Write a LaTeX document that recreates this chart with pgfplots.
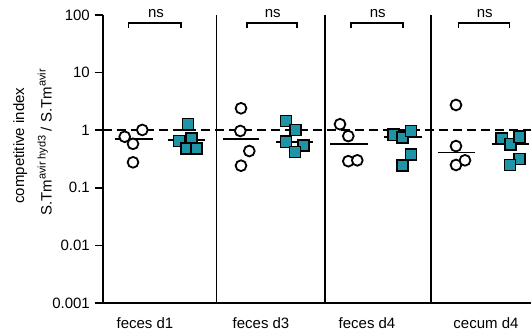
\documentclass[border=0pt]{standalone}
\usepackage{fontspec}
\setmainfont{Liberation Sans}
\usepackage{pgfplots}
\pgfplotsset{compat=1.18}
\definecolor{sqfill}{RGB}{30,148,166}
\begin{document}
\fontsize{15bp}{18bp}\selectfont
\begin{tikzpicture}
\useasboundingbox (0,0) rectangle (531bp,336bp);
\begin{axis}[
 at={(103bp,33bp)}, anchor=south west,
 scale only axis, width=428bp, height=288bp,
 xmin=0, xmax=428, ymode=log, ymin=0.001, ymax=100,
 axis lines=left, axis line style={-, line width=1.8bp},
 ytick={0.001,0.01,0.1,1,10,100},
 yticklabels={0.001,0.01,0.1,1,10,100},
 yminorticks=false,
 tick align=outside, major tick length=8bp,
 ytick style={line width=1.8bp, black},
 xtick={42,158,264,383}, xticklabels={feces d1,feces d3,feces d4,cecum d4},
 xtick style={draw=none},
 xticklabel style={yshift=-1bp},
 tick label style={font=\fontsize{15bp}{18bp}\selectfont},
 clip=false,
]
% dashed reference line at 1
\addplot[black, line width=1.8bp, dash pattern=on 9bp off 5bp] coordinates {(0,1) (428,1)};
% panel separators
\addplot[black, line width=1.8bp] coordinates {(113.5,0.001) (113.5,100)};
\addplot[black, line width=1.8bp] coordinates {(222.3,0.001) (222.3,100)};
\addplot[black, line width=1.8bp] coordinates {(327.7,0.001) (327.7,100)};
% circles (avir)
\addplot[only marks, mark=*, mark size=5.4bp, mark options={fill=white, draw=black, line width=1.8bp}] coordinates {
 (39.3,1.01) (21.7,0.77) (30,0.58) (30,0.277)
 (138,2.40) (137.3,0.97) (146.3,0.435) (138,0.242)
 (237,1.27) (245.3,0.79) (245.3,0.29) (254.3,0.30)
 (353,2.74) (353,0.53) (353,0.249) (362,0.30)
};
% squares (avir hyd3)
\addplot[only marks, mark=square*, mark size=5.6bp, mark options={fill=sqfill, draw=black, line width=1.6bp}] coordinates {
 (85,1.27) (76,0.65) (88.3,0.72) (83.3,0.485) (93.3,0.485)
 (183,1.44) (192.3,1.01) (183,0.63) (200.3,0.54) (192,0.42)
 (290.3,0.83) (299.3,0.75) (308,0.97) (308,0.38) (299.3,0.242)
 (398.7,0.72) (407.3,0.57) (416.3,0.77) (416.3,0.316) (407,0.249)
};
% means
\addplot[black, line width=1.8bp] coordinates {(11.7,0.70) (50,0.70)};
\addplot[black, line width=1.8bp] coordinates {(65,0.68) (101.7,0.68)};
\addplot[black, line width=1.8bp] coordinates {(119.7,0.70) (156.3,0.70)};
\addplot[black, line width=1.8bp] coordinates {(173,0.63) (210.3,0.63)};
\addplot[black, line width=1.8bp] coordinates {(227,0.57) (264.7,0.57)};
\addplot[black, line width=1.8bp] coordinates {(281.3,0.77) (318.7,0.77)};
\addplot[black, line width=1.8bp] coordinates {(334.7,0.41) (372,0.41)};
\addplot[black, line width=1.8bp] coordinates {(388.7,0.57) (425.7,0.57)};
% brackets
\addplot[black, line width=1.6bp] coordinates {(25.3,58.8) (25.3,73.5) (78,73.5) (78,58.8)};
\addplot[black, line width=1.6bp] coordinates {(143.7,58.8) (143.7,73.5) (193.7,73.5) (193.7,58.8)};
\addplot[black, line width=1.6bp] coordinates {(247.7,58.8) (247.7,73.5) (299.7,73.5) (299.7,58.8)};
\addplot[black, line width=1.6bp] coordinates {(355.3,58.8) (355.3,73.5) (406.3,73.5) (406.3,58.8)};
\node[inner sep=0pt] at (axis cs:53,104) {ns};
\node[inner sep=0pt] at (axis cs:169.7,104) {ns};
\node[inner sep=0pt] at (axis cs:274.7,104) {ns};
\node[inner sep=0pt] at (axis cs:381.8,104) {ns};
\end{axis}
\node[rotate=90, anchor=base, inner sep=0pt] at (24bp,190.4bp) {competitive index};
\node[rotate=90, anchor=base, inner sep=0pt] at (51.5bp,193.5bp) {S.Tm\raisebox{6bp}{\fontsize{11bp}{12bp}\selectfont avir hyd3} / S.Tm\raisebox{6bp}{\fontsize{11bp}{12bp}\selectfont avir}};
\end{tikzpicture}
\end{document}
